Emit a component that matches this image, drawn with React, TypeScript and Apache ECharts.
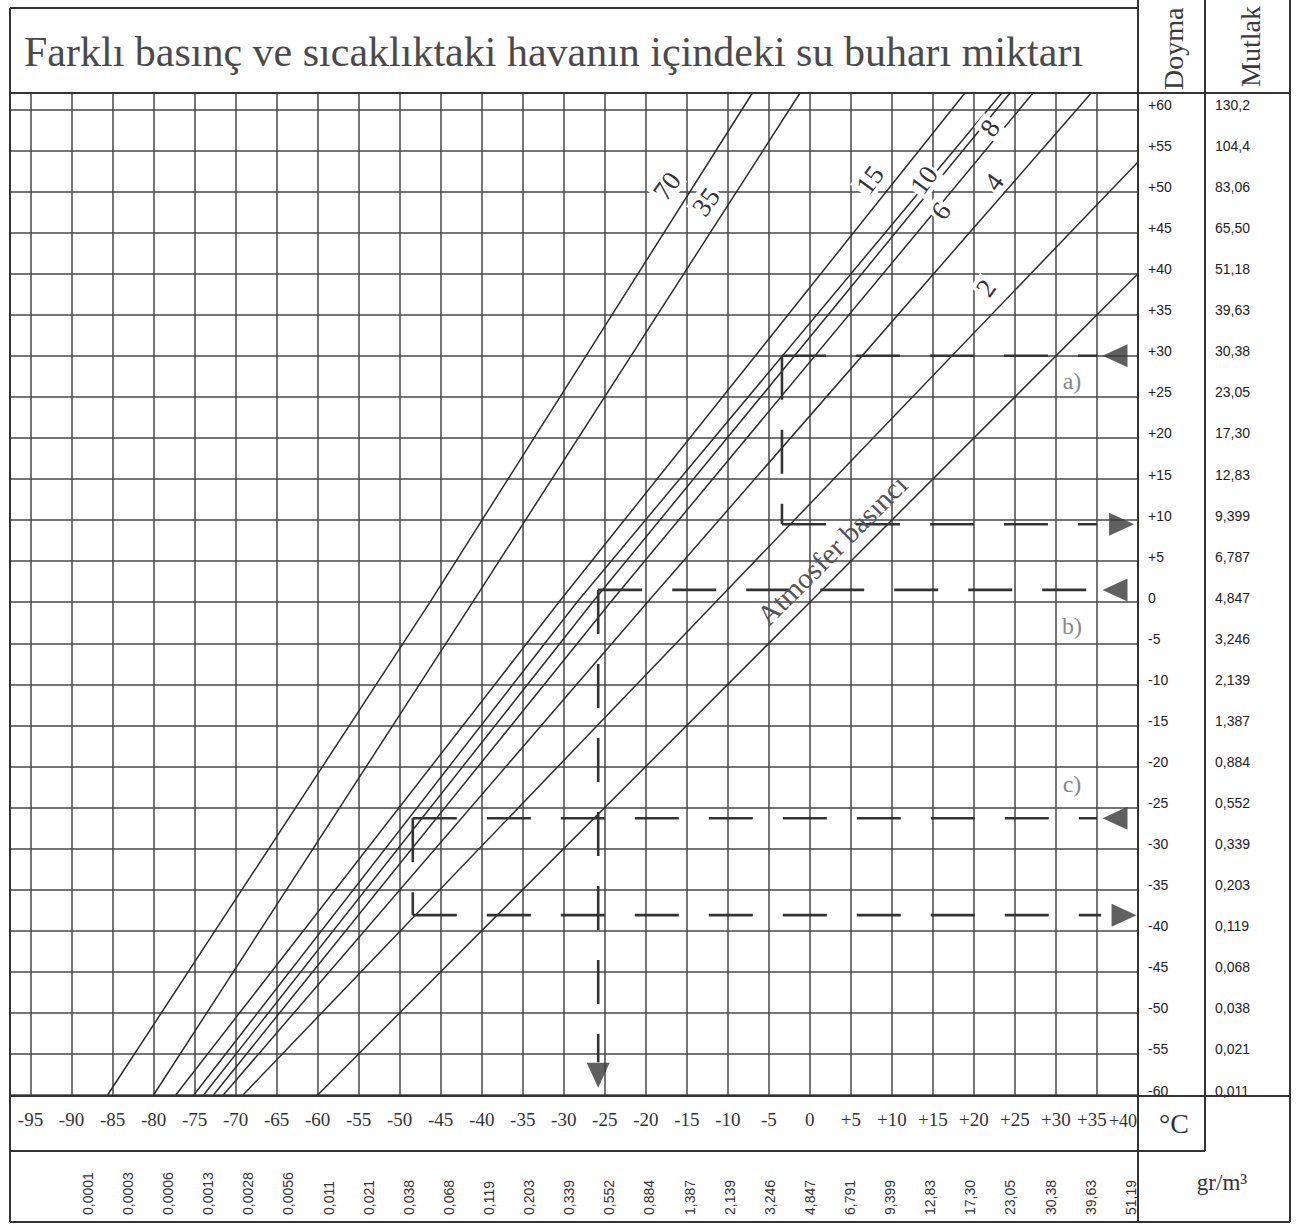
import React, { useEffect, useRef } from "react";
import * as echarts from "echarts";

const TITLE = "Farklı basınç ve sıcaklıktaki havanın içindeki su buharı miktarı";
const HEAD_DEW = "Doyma";
const HEAD_ABS = "Mutlak";
const UNIT_T = "°C";
const UNIT_G = "gr/m³";

// Bottom axis: atmospheric dew point (°C) and the water content (g/m³) at it
const xTemps = [-95, -90, -85, -80, -75, -70, -65, -60, -55, -50, -45, -40, -35, -30, -25, -20, -15, -10, -5, 0, 5, 10, 15, 20, 25, 30, 35, 40];
const xGrams = ["", "0,0001", "0,0003", "0,0006", "0,0013", "0,0028", "0,0056", "0,011", "0,021", "0,038", "0,068", "0,119", "0,203", "0,339", "0,552", "0,884", "1,387", "2,139", "3,246", "4,847", "6,791", "9,399", "12,83", "17,30", "23,05", "30,38", "39,63", "51,19"];

// Right columns: dew point (°C) and absolute humidity (g/m³)
const yTemps = [-60, -55, -50, -45, -40, -35, -30, -25, -20, -15, -10, -5, 0, 5, 10, 15, 20, 25, 30, 35, 40, 45, 50, 55, 60];
const yGrams = ["0,011", "0,021", "0,038", "0,068", "0,119", "0,203", "0,339", "0,552", "0,884", "1,387", "2,139", "3,246", "4,847", "6,787", "9,399", "12,83", "17,30", "23,05", "30,38", "39,63", "51,18", "65,50", "83,06", "104,4", "130,2"];

// Pressure lines (bar): [atmospheric dew point, pressure dew point]
const line70 = [[-85.6, -60], [-46.3, 0], [-7, 62]];
const line35 = [[-80, -60], [-41.1, 0], [-1.2, 62]];
const line15 = [[-77.3, -60], [-30.6, 0], [18.9, 62]];
const line10 = [[-75.1, -60], [-28.4, 0], [23.4, 62]];
const line8 = [[-73.9, -60], [-26.5, 0], [24.4, 62]];
const line6 = [[-72.7, -60], [-24.3, 0], [27.2, 62]];
const line4 = [[-71.5, -60], [-19.8, 0], [34.3, 62]];
const line2 = [[-69.1, -60], [-11.5, 0], [40, 53.6]];
const lineAtm = [[-60, -60], [0, 0], [40, 40]];
const pressureLines = [line70, line35, line15, line10, line8, line6, line4, line2, lineAtm];
const pressureNames = ["70", "35", "15", "10", "8", "6", "4", "2", "Atmosfer basıncı"];

// Worked examples a), b), c): dashed legs
const exampleA = [
  [[-3.4, 30], [35, 30]],
  [[-3.4, 30], [-3.4, 9.5]],
  [[-3.4, 9.5], [35, 9.5]],
];
const exampleB = [
  [[-25.8, 1.5], [35, 1.5]],
  [[-25.8, 1.5], [-25.8, -56]],
];
const exampleC = [
  [[-48.4, -26.3], [35, -26.3]],
  [[-48.4, -26.3], [-48.4, -38.1]],
  [[-48.4, -38.1], [35.5, -38.1]],
];
const arrowPoints = [[37.2, 30], [38, 9.5], [37.2, 1.5], [-25.8, -57.6], [37.2, -26.3], [38.3, -38.1]];
const arrowDirs = ["left", "right", "left", "down", "left", "right"];
const exampleNames = ["a)", "b)", "c)"];

const SERIF = "Liberation Serif";
const SANS = "Liberation Sans";
const INK = "#333";

const isStep = (v: number) => Math.abs(v / 5 - Math.round(v / 5)) < 1e-6;
const fmtT = (v: number) => (v > 0 ? "+" + v : String(v));

function App() {
  const ref = useRef<HTMLDivElement>(null);

  useEffect(() => {
    document.body.style.margin = "0";
    if (!ref.current) return;
    const chart = echarts.init(ref.current, null, { renderer: "svg" });

    const gridLine = { show: true, lineStyle: { color: "#474747", width: 1.5 } };

    const xLabel = (v: number) => {
      const r = Math.round(v);
      if (!isStep(v) || xTemps.indexOf(r) < 0) return "";
      // the second-to-last label is pushed left, as printed, to make room for the last one
      return r === xTemps[xTemps.length - 2] ? "{s|" + fmtT(r) + "}" : fmtT(r);
    };
    const xGram = (v: number) => {
      const i = xTemps.indexOf(Math.round(v));
      return isStep(v) && i >= 0 ? xGrams[i] : "";
    };
    const yLabel = (v: number) => (isStep(v) && yTemps.indexOf(Math.round(v)) >= 0 ? fmtT(Math.round(v)) : "");
    const yGram = (v: number) => {
      const i = yTemps.indexOf(Math.round(v));
      return isStep(v) && i >= 0 ? yGrams[i] : "";
    };

    const series: any[] = [];
    pressureLines.forEach((d, i) => {
      series.push({
        type: "line",
        name: pressureNames[i],
        data: d,
        symbol: "none",
        silent: true,
        z: 3,
        lineStyle: { color: "#2e2e2e", width: 1.5 },
      });
    });
    [exampleA, exampleB, exampleC].forEach((legs, k) => {
      legs.forEach((leg) => {
        series.push({
          type: "line",
          name: exampleNames[k],
          data: leg,
          symbol: "none",
          silent: true,
          z: 4,
          lineStyle: { color: "#333", width: 2.6, type: [44, 30] },
        });
      });
    });
    const rot: Record<string, number> = { left: 90, right: -90, down: 180, up: 0 };
    series.push({
      type: "scatter",
      name: "arrows",
      silent: true,
      z: 5,
      symbol: "triangle",
      symbolSize: [23, 25],
      itemStyle: { color: "#383838" },
      data: arrowPoints.map((p, i) => ({ value: p, symbolRotate: rot[arrowDirs[i]] })),
    });

    const txt = (text: string, x: number, y: number, size: number, o: any = {}) => ({
      type: "text",
      x,
      y,
      rotation: o.rotation || 0,
      z: 50,
      silent: true,
      style: {
        text,
        fontFamily: o.family || SERIF,
        fontSize: size,
        fill: o.fill || INK,
        align: o.align || "center",
        verticalAlign: o.valign || "middle",
        textAlign: o.align || "center",
        textVerticalAlign: o.valign || "middle",
        backgroundColor: o.bg,
        padding: o.bg ? [0, 2] : undefined,
      },
    });
    const ln = (x1: number, y1: number, x2: number, y2: number) => ({
      type: "line",
      z: 60,
      silent: true,
      shape: { x1, y1, x2, y2 },
      style: { stroke: INK, lineWidth: 2 },
    });
    const lab = Math.PI * 0.3;

    const graphic: any[] = [
      ln(10, 8, 1138, 8),
      ln(10, 93, 1290, 93),
      ln(10, 1096, 1290, 1096),
      ln(10, 1151, 1205, 1151),
      ln(10, 1222, 1290, 1222),
      ln(10, 8, 10, 1222),
      ln(1138, 0, 1138, 1222),
      ln(1205, 0, 1205, 1151),
      ln(1290, 0, 1290, 1222),
      txt(TITLE, 24, 52, 42, { align: "left", fill: "#4a4a4a" }),
      txt(HEAD_DEW, 1173, 90, 28, { align: "left", rotation: Math.PI / 2, fill: "#3a3a3a" }),
      txt(HEAD_ABS, 1250, 87, 28, { align: "left", rotation: Math.PI / 2, fill: "#3a3a3a" }),
      txt(UNIT_T, 1174, 1123, 28),
      txt(UNIT_G, 1222, 1182, 23),
      // last temperature label, squeezed against the border as in the print
      txt(fmtT(xTemps[xTemps.length - 1]), 1123, 1121, 18),
      txt(pressureNames[0], 667, 186, 27, { rotation: lab, bg: "#fff" }),
      txt(pressureNames[1], 706, 202, 27, { rotation: lab, bg: "#fff" }),
      txt(pressureNames[2], 870, 180, 27, { rotation: lab, bg: "#fff" }),
      txt(pressureNames[3], 924, 180, 27, { rotation: lab, bg: "#fff" }),
      txt(pressureNames[4], 990, 128, 27, { rotation: lab, bg: "#fff" }),
      txt(pressureNames[5], 941, 211, 27, { rotation: lab, bg: "#fff" }),
      txt(pressureNames[6], 994, 182, 27, { rotation: lab, bg: "#fff" }),
      txt(pressureNames[7], 986, 288, 27, { rotation: lab, bg: "#fff" }),
      txt(pressureNames[8], 832, 550, 29, { rotation: Math.PI / 4, fill: "#555" }),
      txt(exampleNames[0], 1072, 381, 24, { fill: "#888" }),
      txt(exampleNames[1], 1072, 626, 24, { fill: "#888" }),
      txt(exampleNames[2], 1072, 784, 24, { fill: "#888" }),
    ];

    chart.setOption({
      animation: false,
      backgroundColor: "#fff",
      grid: { left: 10, right: 160, top: 93, bottom: 131, containLabel: false },
      xAxis: [
        {
          type: "value",
          min: -97.5,
          max: 40,
          minInterval: 5,
          maxInterval: 5,
          splitNumber: 27,
          position: "bottom",
          axisLine: { show: false },
          axisTick: { show: false },
          splitLine: gridLine,
          axisLabel: {
            formatter: xLabel,
            fontFamily: SERIF,
            fontSize: 19,
            color: INK,
            margin: 15,
            showMaxLabel: false,
            rich: {
              s: { fontFamily: SERIF, fontSize: 19, color: INK, padding: [0, 10, 0, 0] },
            },
          },
        },
        {
          type: "value",
          min: -99.7,
          max: 40.9,
          minInterval: 5,
          maxInterval: 5,
          splitNumber: 28,
          position: "bottom",
          offset: 112,
          axisLine: { show: false },
          axisTick: { show: false },
          splitLine: { show: false },
          axisLabel: {
            formatter: xGram,
            rotate: 90,
            align: "left",
            verticalAlign: "middle",
            margin: 8,
            fontFamily: SANS,
            fontSize: 14,
            color: INK,
            showMaxLabel: true,
          },
        },
      ],
      yAxis: [
        {
          type: "value",
          min: -60,
          max: 62,
          interval: 5,
          position: "right",
          axisLine: { show: false },
          axisTick: { show: false },
          splitLine: gridLine,
          axisLabel: {
            formatter: yLabel,
            align: "left",
            verticalAlign: "bottom",
            lineHeight: 9,
            margin: 10,
            fontFamily: SANS,
            fontSize: 14,
            color: "#222",
          },
        },
        {
          type: "value",
          min: -60,
          max: 62,
          interval: 5,
          position: "right",
          offset: 67,
          axisLine: { show: false },
          axisTick: { show: false },
          splitLine: { show: false },
          axisLabel: {
            formatter: yGram,
            align: "left",
            verticalAlign: "bottom",
            lineHeight: 9,
            margin: 10,
            fontFamily: SANS,
            fontSize: 14,
            color: "#222",
          },
        },
      ],
      series,
      graphic,
    });

    return () => chart.dispose();
  }, []);

  return <div ref={ref} style={{ width: 1298, height: 1226 }} />;
}

export default App;
